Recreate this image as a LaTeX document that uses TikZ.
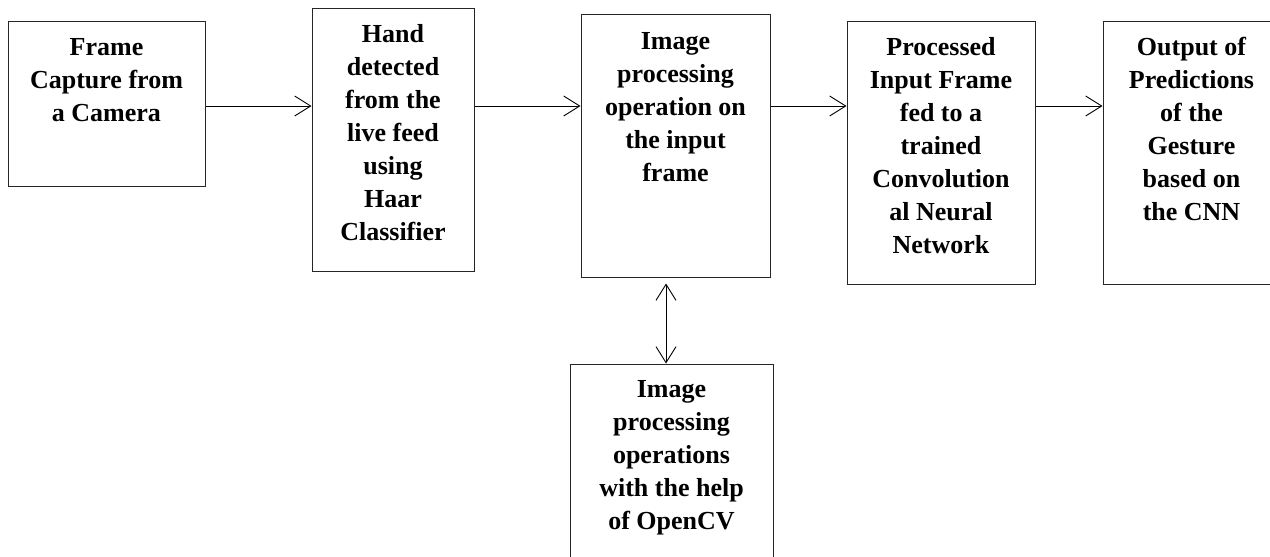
\documentclass[tikz,border=0pt]{standalone}
\usepackage{fontspec}
\setmainfont{Liberation Serif}
\usetikzlibrary{arrows.meta}
\begin{document}
\begin{tikzpicture}[x=1pt,y=-1pt,
  boxnode/.style={draw=black!85, line width=1pt, rectangle, inner sep=0pt},
  txt/.style={anchor=north, inner sep=0pt, align=center,
    font=\fontsize{26}{33}\selectfont\bfseries},
  flow/.style={draw=black, line width=0.9pt, -{Straight Barb[length=16pt,width=20pt,line width=0.9pt]}},
  dbl/.style={draw=black, line width=0.9pt, {Straight Barb[length=16pt,width=20pt,line width=0.9pt]}-{Straight Barb[length=16pt,width=20pt,line width=0.9pt]}}
]
\useasboundingbox (0,0) rectangle (1270,557);
\clip (0,0) rectangle (1270,557);
\fill[white] (0,0) rectangle (1270,557);
\newcommand{\fl}{\rule{0pt}{20pt}}
% boxes
\node[boxnode, minimum width=197pt, minimum height=165pt] (b1) at (106.5,103.5) {};
\node[boxnode, minimum width=162pt, minimum height=263pt] (b2) at (393,139.5) {};
\node[boxnode, minimum width=189pt, minimum height=263pt] (b3) at (675.5,145.5) {};
\node[boxnode, minimum width=188pt, minimum height=263pt] (b4) at (941,152.5) {};
\node[boxnode, minimum width=177pt, minimum height=263pt] (b5) at (1191.5,152.5) {};
\node[boxnode, minimum width=203pt, minimum height=220pt] (b6) at (671.5,474) {};
% texts
\node[txt] (t1) at ([yshift=-15pt]b1.north) {\fl Frame\\Capture from\\a Camera};
\node[txt] (t2) at ([yshift=-15pt]b2.north) {\fl Hand\\detected\\from the\\live feed\\using\\Haar\\Classifier};
\node[txt] (t3) at ([yshift=-16pt]b3.north) {\fl Image\\processing\\operation on\\the input\\frame};
\node[txt] (t4) at ([yshift=-15pt]b4.north) {\fl Processed\\Input Frame\\fed to a\\trained\\Convolution\\al Neural\\Network};
\node[txt] (t5) at ([yshift=-15pt]b5.north) {\fl Output of\\Predictions\\of the\\Gesture\\based on\\the CNN};
\node[txt] (t6) at ([yshift=-14pt]b6.north) {\fl Image\\processing\\operations\\with the help\\of OpenCV};
% connectors
\draw[flow] (b1.east |- 0,106) -- (b2.west |- 0,106);
\draw[flow] (b2.east |- 0,106) -- (b3.west |- 0,106);
\draw[flow] (b3.east |- 0,106) -- (b4.west |- 0,106);
\draw[flow] (b4.east |- 0,106) -- (b5.west |- 0,106);
\draw[dbl] ([xshift=-9.5pt,yshift=-6pt]b3.south) -- ([xshift=-5.5pt]b6.north);
\end{tikzpicture}
\end{document}
